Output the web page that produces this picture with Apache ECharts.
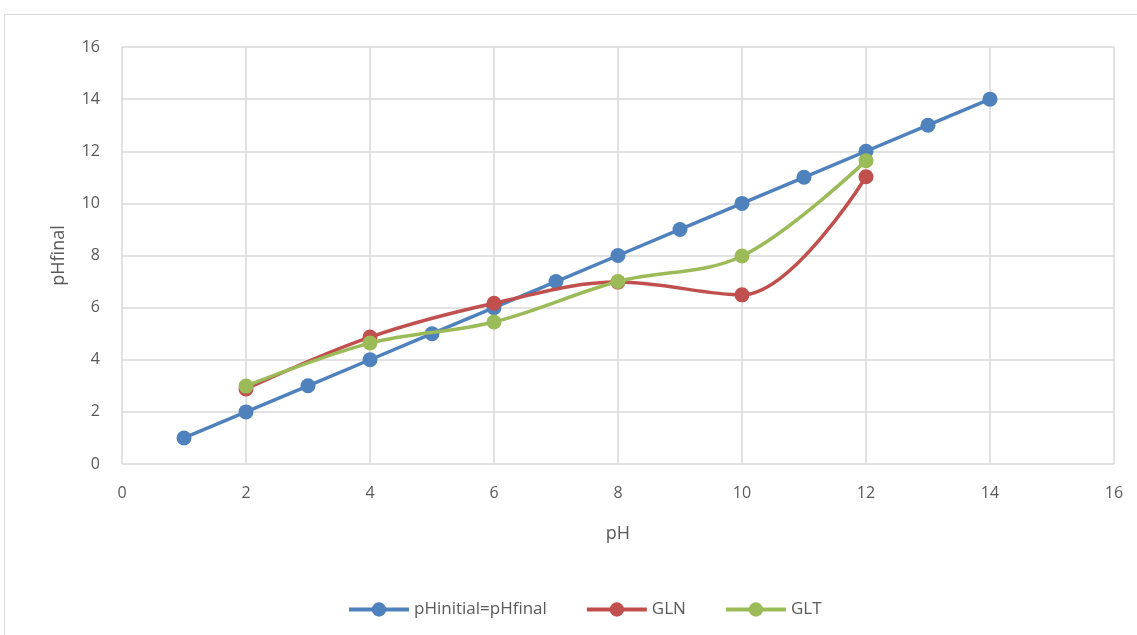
<!DOCTYPE html>
<html><head><meta charset="utf-8">
<script src="https://cdn.jsdelivr.net/npm/echarts@6/dist/echarts.min.js"></script>
<style>html,body{margin:0;padding:0;background:#fff}#c{width:1137px;height:635px}</style>
</head><body><div id="c"></div>
<script>
const xTicks = [0, 2, 4, 6, 8, 10, 12, 14, 16];
const idealX = [1, 2, 3, 4, 5, 6, 7, 8, 9, 10, 11, 12, 13, 14];
const idealY = [1, 2, 3, 4, 5, 6, 7, 8, 9, 10, 11, 12, 13, 14];
const glnX = [2, 4, 6, 8, 10, 12];
const glnY = [2.88, 4.87, 6.17, 6.98, 6.49, 11.02];
const gltX = [2, 4, 6, 8, 10, 12];
const gltY = [2.99, 4.64, 5.45, 7.0, 7.98, 11.64];
const seriesNames = ['pHinitial=pHfinal', 'GLN', 'GLT'];
const colors = ['#4F81BD', '#C0504D', '#9BBB59'];

const zip = (a, b) => a.map((v, i) => [v, b[i]]);
const font = '"Open Sans", Lato, sans-serif';
const chart = echarts.init(document.getElementById('c'));
const mk = (name, data, color, smooth, z) => ({
  name, type: 'line', data, smooth: smooth ? 0.35 : false, z,
  symbol: 'circle', symbolSize: 15,
  lineStyle: { width: 3.5, color }, itemStyle: { color }
});
chart.setOption({
  animation: false,
  textStyle: { fontFamily: font },
  graphic: [{ type: 'rect', shape: { x: 4.5, y: 14.5, width: 1200, height: 700 },
    style: { fill: 'none', stroke: '#d9d9d9', lineWidth: 1 }, silent: true }],
  grid: { left: 122, right: 23, top: 47, bottom: 171 },
  xAxis: { type: 'value', min: 0, max: 16, interval: 2,
    name: 'pH', nameLocation: 'middle', nameGap: 61,
    nameTextStyle: { fontSize: 18, color: '#595959', fontFamily: font },
    axisLine: { show: false }, axisTick: { show: false },
    axisLabel: { fontSize: 16, color: '#595959', margin: 21, fontFamily: font },
    splitLine: { show: true, lineStyle: { color: '#d9d9d9', width: 1.5 } } },
  yAxis: { type: 'value', min: 0, max: 16, interval: 2,
    name: 'pHfinal', nameLocation: 'middle', nameGap: 54,
    nameTextStyle: { fontSize: 18, color: '#595959', fontFamily: font },
    axisLine: { show: false }, axisTick: { show: false },
    axisLabel: { fontSize: 16, color: '#595959', margin: 22, fontFamily: font },
    splitLine: { show: true, lineStyle: { color: '#d9d9d9', width: 1.5 } } },
  legend: { bottom: 12, left: 342, itemWidth: 60, itemHeight: 18, itemGap: 38,
    lineStyle: { width: 4 },
    textStyle: { fontSize: 17, color: '#595959', fontFamily: font },
    data: seriesNames },
  series: [
    mk(seriesNames[0], zip(idealX, idealY), colors[0], false, 3),
    mk(seriesNames[1], zip(glnX, glnY), colors[1], true, 4),
    mk(seriesNames[2], zip(gltX, gltY), colors[2], true, 5)
  ]
});
</script></body></html>
